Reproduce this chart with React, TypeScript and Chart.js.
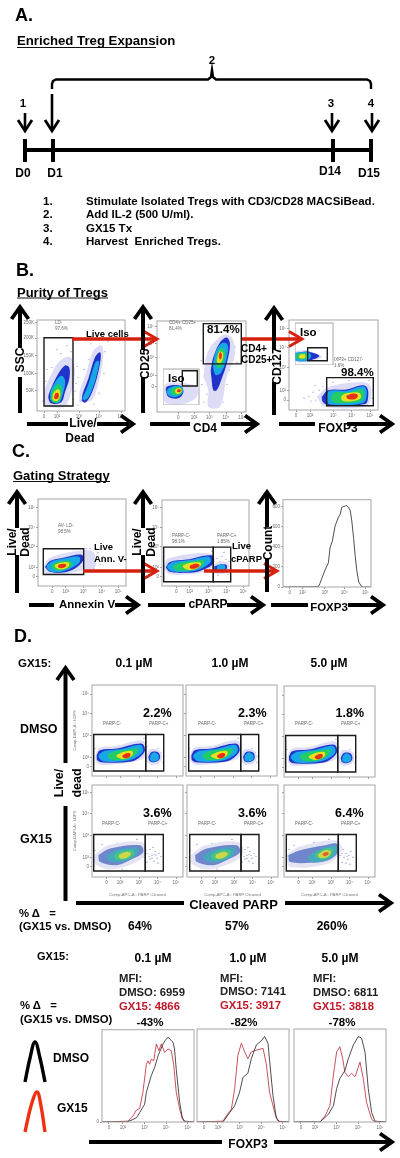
import React, { useEffect, useRef } from "react";
import { Chart, registerables } from "chart.js";

Chart.register(...registerables);

type Pt = [number, number];

/* ---------- tick labels ---------- */
const logLabels = ["0", "10²", "10³", "10⁴", "10⁵"];
const logLabelsY = ["10⁵", "10⁴", "10³", "10²", "0"];
const sscLabels = ["50K", "100K", "150K", "200K", "250K"];
const countLabels = ["0", "200", "400", "600", "800"];
const countTicks = [0, 200, 400, 600, 800];

/* ---------- density contours, display channels, outermost level first ---------- */
const liveDeadLive: Pt[][] = [
  [[8,4.3],[7,17.7],[13,34.3],[23,51],[33.7,54.3],[38,37.7],[33,14.3],[26.3,4.3]],
  [[13,8.3],[11.3,14.3],[14.7,24.3],[21.3,37.7],[28,46],[32.3,43.7],[32.3,32.7],[28,19.3],[24.7,9.3],[18,7]],
  [[14.7,11],[14.7,19.3],[19.7,29.3],[24.7,34.3],[27,29.3],[24.7,17.7],[21.3,9.3]],
  [[14.7,11],[16.3,19.3],[21.3,26],[23.7,22.7],[22.3,12.7],[18,9.3]],
  [[16.3,11.7],[17.3,17.7],[21.3,21],[22.3,16],[19.7,11]],
  [[17.5,13.5],[19,17.5],[21,17.5],[21,14],[19,12.5]],
];
const liveDeadDead: Pt[][] = [
  [[42.3,8.3],[43,21],[49,37.7],[56.3,61],[64.7,66],[66.3,54.3],[61.3,27.7],[54.7,11]],
  [[44.7,10.3],[45.7,17.7],[51.3,32.7],[58,54.3],[63,59.3],[63.7,52.7],[59.7,32.7],[53,14.3],[48,8.3]],
  [[46.3,11.7],[52.3,26],[59,47.7],[61,49.3],[57,31],[50.3,14.3]],
];
const cd4Cd25: Pt[][] = [
  [[46.3,35.3],[51.3,62],[66.3,78],[74.7,75.3],[78,58.7],[69.7,35.3],[63,5.3],[51.3,5.3],[51.3,22]],
  [[53.7,42],[56.3,55.3],[63,70.3],[69.7,75.3],[73,68.7],[69.7,48.7],[64.7,33.7],[59.7,22],[56.3,22],[54.7,32]],
  [[57,47],[59.7,60.3],[65.7,68.7],[69.7,67],[68,52],[63,40.3],[59,38.7]],
  [[59.7,50.3],[61.3,58.7],[64.7,63.7],[67,60.3],[64.7,48.7],[61.3,45.3]],
  [[61,53.7],[63,60.3],[65.3,58.7],[63.7,51.3],[61.3,50.3]],
  [[62.3,56],[63.3,59.7],[64.3,58],[63.3,53.7]],
];
const cd4Iso: Pt[][] = [
  [[20.3,22.3],[33.7,18.3],[33.7,8.3],[20.3,1],[2.7,1.7],[1,15],[3.7,21.7]],
  [[2.7,15],[3.7,18.3],[12,20],[18.7,18.3],[20.3,12.3],[15.3,6.7],[5.3,8.3]],
  [[4.7,15],[12,18],[18,17],[18.3,12.3],[12,9],[6,10.7]],
  [[8.7,14.7],[13.7,17],[17.7,15.7],[17,12.3],[12,11],[8.7,12.3]],
  [[12.7,15],[17,16],[17.3,13.3],[13.7,12.3]],
  [[14.7,15],[17,15],[17,13.7],[14.7,13.7]],
];
const foxp3Cd127: Pt[][] = [
  [[27.7,13.3],[39.3,23.3],[72.7,28.3],[81,25],[81.7,10],[76,3.3],[36,3.3]],
  [[32.7,13.3],[39.3,20],[57.7,20.7],[72.7,25],[77.7,23.3],[79.3,15],[76,6],[39.3,5],[33.7,8.3]],
  [[38.3,11.7],[41,18.3],[57.7,18.3],[74.3,22.7],[76.7,16.7],[73.7,8.3],[41,6.7]],
  [[42.7,11.7],[46,16.7],[61,16.7],[72.7,20],[73.7,13.3],[69.3,9.3],[46,8.3]],
  [[52.7,13.3],[57.7,16],[69.3,16.7],[71,12.7],[64.3,10],[54.3,10]],
  [[57.7,14],[64.3,16],[68.3,14.7],[66,11.7],[59.3,11.7]],
];
const foxp3Iso: Pt[][] = [
  [[11.7,15],[26.7,8.3],[11.7,3.3],[0,4],[0,13]],
  [[0,11.7],[13.3,13.3],[24.3,9],[13.3,4.3],[0,5]],
  [[1,11],[11.7,12],[15,9],[11.7,5.7],[1,5.7]],
  [[2.7,10.3],[10,10.7],[12.3,9],[10,7],[2.7,7.3]],
  [[5,9.7],[9,9.7],[9.3,8],[5,8]],
];
const annexinLive: Pt[][] = [
  [[4.7,17.7],[12,28.7],[43.7,36],[55.3,34.3],[57,19.3],[38.7,14.3],[22,11.7],[7,12]],
  [[7,19.3],[12,25.3],[25.3,28.7],[43.7,31.7],[45.3,26],[37,17.7],[25.3,13.7],[12,14.3]],
  [[9.3,20],[15.3,24.3],[28.7,27],[40.3,28.7],[40.3,24.3],[32,18.7],[22,15.3],[12,16]],
  [[13.7,20],[20.3,23.3],[30.3,24.3],[33.7,22],[27,18],[18.7,16.7]],
  [[17,20.3],[23.7,22.7],[30.3,22.7],[28.7,19.3],[22,17.7]],
  [[20.3,20.7],[24.7,22],[27.7,21],[25.3,19],[21.3,19]],
];
const cparpNeg: Pt[][] = [
  [[1.3,17.7],[6.3,27.7],[49.7,32.7],[52,21],[38,13.3],[8,12]],
  [[3.7,18.7],[8,24.3],[24.7,26.7],[49.7,31],[51.3,22.7],[38,15.3],[24.7,13.3],[8,14.3]],
  [[5.7,19.3],[11.3,23.3],[28,25],[46.3,28.7],[47.3,24.3],[34.7,17],[21.3,15.3],[9.7,16]],
  [[11.3,19.3],[19.7,22.7],[34.7,24.3],[41.3,25.3],[39.7,21.7],[31.3,17.7],[16.3,16.7]],
  [[21.3,20],[29.7,22.7],[38,22.7],[34.7,18.7],[26.3,17.3]],
  [[28,20],[33,22],[37,21],[33,18.3],[28.7,18.3]],
];
const cparpPos: Pt[][] = [
  [[50,21],[60,25],[67,22],[66,14],[52,13]],
  [[52.3,20],[59.7,22],[64.7,21],[64,16.7],[53,15.3]],
  [[56.3,20],[61.3,20.7],[62,18],[56.3,17]],
];
const dmsoNeg: Pt[][] = [
  [[3,19.3],[7.3,28.3],[24.7,30.3],[50.7,36],[54.7,26],[49.7,17],[11.3,11],[4.7,13.7]],
  [[4.7,21],[8,26],[24.7,27.7],[49.7,32.7],[53,26],[48,19.3],[38,14.3],[11.3,13.7],[5.3,16]],
  [[7,20.3],[13,24.3],[29.7,26],[48,30.3],[49.7,25],[41.7,18.7],[31.3,16],[11.3,16]],
  [[16.3,21],[24.7,24.3],[39.7,26],[44.7,27],[43,22.7],[33,17.7],[19.7,17.7]],
  [[24.7,20.3],[33,23.7],[39.7,24.3],[39,21],[31.3,18.3]],
  [[30.7,20.3],[35.3,22.7],[38,22],[36.3,19.3],[32,18.7]],
];
const dmsoPos: Pt[][] = [
  [[54,19],[58,27],[67,26],[70,18],[65,12],[56,13]],
  [[56.3,19.3],[59.7,24.3],[66.3,23.7],[68,18.3],[64,14.3],[58,15]],
  [[58.7,19.3],[62,22.7],[65.7,20.3],[64.7,16.7],[59.7,16.3]],
];
const gxLowNeg: Pt[][] = [
  [[2.3,22],[16.3,32],[49.7,35.3],[54.7,23.7],[41.3,13.7],[18,7.7],[3,13.7]],
  [[6.3,22],[18,28.7],[48,32],[51.3,25.3],[41.3,18.7],[24.7,12],[8,15.3]],
  [[14.7,20.3],[24.7,26],[44.7,28.7],[44.7,23.7],[34.7,17.7],[19.7,16.3]],
  [[23,22],[31.3,25.3],[40.7,26],[39.7,22],[31.3,18.7],[24.7,18.7]],
  [[27.3,21.7],[34,24.3],[38,23.7],[34.7,20.3],[28.7,19.7]],
];
const gxHighNeg: Pt[][] = [
  [[2,22],[14.3,30.3],[52.7,37],[57.7,27],[44.3,13.7],[6,10.3]],
  [[4.3,22],[16,27],[41,32],[52.7,33.7],[54.3,25.3],[44.3,17],[26,14.3],[6,15.3]],
  [[24.3,19.7],[36,27],[51,30.3],[51,23.7],[41,17.7],[27.7,16.3]],
  [[31,22],[39.3,27],[47.7,27.7],[46,22],[37.7,18.7]],
  [[34.3,22],[41,26],[46,25.3],[42.7,21],[36.7,20.3]],
  [[38.7,23],[42.7,24.7],[44.3,23.7],[41,21.7]],
];

/* ---------- sparse events outside the contours ---------- */
const specksLive: Pt[] = [[6,10],[9,30],[15,44],[24,58],[34,60],[40,45],[39,28],[36,12],[30,6],[41,6],[47,42],[52,52],[54,68],[62,72],[68,60],[67,38],[62,18],[57,7],[10,42],[20,62],[30,66],[71,70],[64,78],[38,20],[41,34]];
const specksCd4: Pt[] = [[47,10],[50,18],[53,8],[58,5],[62,12],[66,20],[70,28],[72,42],[45,28],[48,44],[80,50],[78,66],[60,80],[44,52],[56,14],[60,9],[66,10],[52,28]];
const specksFox: Pt[] = [[20,14],[24,18],[27,10],[30,20],[22,9],[34,24],[44,28],[60,30],[80,30],[84,20],[15,12],[26,25],[83,12]];
const specksAnnexin: Pt[] = [[55,30],[58,26],[60,34],[52,38],[62,22],[56,18],[65,30],[50,16],[48,38],[60,16],[67,26],[58,38]];
const specksCparp: Pt[] = [[55,28],[60,30],[64,27],[67,25],[69,18],[66,12],[56,11],[50,35],[62,34],[58,25]];
const specksDmso: Pt[] = [[69,24],[72,20],[71,14],[55,30],[66,28],[60,12],[3,28],[52,38]];
const specksGxLow: Pt[] = [[55,24],[58,28],[60,22],[63,26],[65,19],[67,24],[62,16],[58,18],[69,21],[55,15],[61,30],[66,14],[3,27],[10,33],[25,34],[45,38],[30,8],[15,9],[60,19],[64,22],[57,21],[62,23]];
const specksGxHigh: Pt[] = [[56,22],[59,28],[62,24],[64,18],[67,26],[69,20],[58,15],[62,14],[66,13],[3,18],[5,28],[10,32],[30,35],[45,38],[20,10],[60,20],[63,21],[58,24],[65,22]];

/* ---------- histograms: decade position, % of mode ---------- */
const countX = [0.92,1.83,2.67,2.75,3,3.17,3.25,3.37,3.5,3.67,3.75,3.83,3.92,4,4.08,4.17,4.25,4.33,4.42,4.5,4.58,4.67,4.83,5.28];
const countY = [0,2,3,35,168,240,387,460,605,696,720,790,800,803,810,790,760,655,480,302,160,50,0,0];
const h1BlackX = [1.03,2.15,2.38,2.62,2.77,3,3.08,3.31,3.46,3.62,3.85,3.95,4.08,4.15,4.23,4.31,4.38,4.46,4.62,4.74,4.85,5.28];
const h1BlackY = [0,0,2,5,11,21,35,55,64,78,92,96,100,98,96,94,86,62,23,5,1,0];
const h1RedX = [1.03,2.23,2.46,2.62,2.77,2.92,3.08,3.15,3.23,3.31,3.42,3.54,3.66,3.77,3.92,4.08,4.23,4.34,4.46,4.62,4.74,4.85,5.28];
const h1RedY = [0,1,7,14,16,35,68,72,68,74,72,92,84,92,82,86,84,68,35,15,4,0,0];
const h2BlackX = [1.03,2.23,2.54,2.77,3,3.15,3.38,3.54,3.77,4,4.15,4.31,4.42,4.54,4.69,4.85,5.28];
const h2BlackY = [0,0,11,19,35,52,57,74,90,95,100,92,62,31,5,0,0];
const h2RedX = [1.03,2.23,2.38,2.62,2.77,2.92,3.08,3.23,3.38,3.54,3.77,4.08,4.23,4.38,4.62,4.77,5.28];
const h2RedY = [0,1,7,15,39,78,92,82,74,82,84,86,68,35,11,1,0];
const h3BlackX = [1.03,2.23,2.62,2.85,3,3.15,3.38,3.54,3.77,4,4.15,4.31,4.46,4.62,4.77,5.28];
const h3BlackY = [0,0,9,19,39,51,60,74,90,100,98,82,39,11,1,0];
const h3RedX = [1.03,2.23,2.46,2.69,2.85,3,3.15,3.28,3.38,3.54,3.69,3.85,4,4.08,4.23,4.38,4.62,4.77,5.28];
const h3RedY = [0,0,7,19,55,82,88,74,58,53,57,53,64,70,51,23,3,0,0];

/* ---------- palettes ---------- */
const RAINBOW = ["#dcdcf6", "#2233cc", "#18a8e6", "#22cc66", "#e8e020", "#e83018"];
const PALE = ["#e4e4f4", "#6f86cc", "#45a8bc", "#48c484", "#ccd848", "#e06030"];
const GROW = [0, 0, 2.4, 2.4, 2, 1.2];
const RED_LINE = "#c02535";
const FONT = '"Liberation Sans", Arial, sans-serif';

type Cloud = { levels: Pt[][]; shift?: number; pal?: string[] };
type Spec = {
  box: [number, number, number, number];
  clouds?: Cloud[];
  specks?: Pt[]; speckColor?: string;
  gates?: number[][];
  xTicks?: number[]; xLabels?: string[];
  yTicks?: number[]; yLabels?: string[];
  xTitle?: string; yTitle?: string;
  xRange?: [number, number]; yRange?: [number, number];
  lines?: { xs: number[]; ys: number[]; color: string }[];
  inset?: boolean;
};

const DX = [14.5, 28, 47, 65.5, 84];
const DY1 = [82.7, 62.7, 41, 18.7, 9.3];
const DY2 = [85.3, 63.7, 42, 19.7, 10.3];
const HX = [1.35, 2, 3, 4, 5];
const APC = "Comp-APC-A:: PARP Cleaved";
const DAPI = "Comp-DAPI-A:: LDFS";

const dRow1 = (left: number, top: number, shift: number, g: number[], labelsY: boolean): Spec => ({
  box: [left, top, 91, 92],
  clouds: [{ levels: dmsoPos, shift }, { levels: dmsoNeg, shift }],
  specks: specksDmso,
  gates: [[g[0], g[1], 5, 42], [g[1], g[2], 5, 42]],
  xTicks: DX, yTicks: DY1, yLabels: labelsY ? logLabelsY : undefined, yTitle: labelsY ? DAPI : undefined,
});
const dRow2 = (left: number, levels: Pt[][], specks: Pt[], shift: number, g: number[], labelsY: boolean): Spec => ({
  box: [left, 784, 91, 93],
  clouds: [{ levels, shift, pal: PALE }],
  specks, speckColor: "#7078c0",
  gates: [[g[0], g[1], 6, 43], [g[1], g[2], 6, 43]],
  xTicks: DX, xLabels: logLabels, xTitle: APC,
  yTicks: DY2, yLabels: labelsY ? logLabelsY : undefined, yTitle: labelsY ? DAPI : undefined,
});
const hist = (left: number, series: Spec["lines"], zero: boolean): Spec => ({
  box: [left, 1029, 92, 93],
  xRange: [1.03, 5.28], yRange: [0, 108.7],
  xTicks: HX, xLabels: logLabels,
  yTicks: zero ? [0] : [], yLabels: zero ? ["0"] : [],
  lines: series,
});

const PLOTS: Spec[] = [
  { box: [37, 319, 88, 92], clouds: [{ levels: liveDeadDead }, { levels: liveDeadLive }], specks: specksLive,
    gates: [[7, 36, 5, 74]],
    xTicks: [7, 20, 42, 62, 84], xLabels: logLabels, yTicks: [20.3, 38, 56, 73.7, 89], yLabels: sscLabels },
  { box: [157, 320, 89, 92], clouds: [{ levels: cd4Cd25 }], specks: specksCd4,
    gates: [[46.3, 84.3, 48.7, 89.3]],
    xTicks: [21.3, 37, 52.3, 69, 84.7], xLabels: logLabels, yTicks: [86, 69, 54.7, 37, 25.3], yLabels: logLabelsY },
  { box: [163, 369, 36, 36], clouds: [{ levels: cd4Iso }], gates: [[19.3, 34.3, 19, 34.3]], inset: true },
  { box: [289, 319, 89, 91], clouds: [{ levels: foxp3Cd127 }], specks: specksFox,
    gates: [[37.7, 84.3, 4.3, 32.7]],
    xTicks: [7, 21, 44.3, 62.7, 81], xLabels: logLabels, yTicks: [82, 63, 43, 19.3, 10], yLabels: logLabelsY },
  { box: [295, 323, 38, 42], clouds: [{ levels: foxp3Iso }], gates: [[12.7, 32.3, 4.3, 17.3]], inset: true },
  { box: [38, 498, 88, 88], clouds: [{ levels: annexinLive }], specks: specksAnnexin, gates: [[5.3, 45.7, 11.7, 37.7]],
    xTicks: [14.3, 27.7, 45.3, 63.7, 80.3], xLabels: logLabels, yTicks: [79.3, 59.3, 40, 18.7, 9.3], yLabels: logLabelsY },
  { box: [162, 499, 87, 87], clouds: [{ levels: cparpPos }, { levels: cparpNeg }], specks: specksCparp,
    gates: [[1.7, 51.3, 4.3, 39.3], [51.3, 68.7, 4.3, 39.3]],
    xTicks: [14.3, 27.7, 46.3, 64.7, 81.3], xLabels: logLabels, yTicks: [79.3, 59.3, 40, 18.7, 9.3], yLabels: logLabelsY },
  { box: [283, 499, 88, 88], xRange: [0.92, 5.28], yRange: [0, 867],
    xTicks: [1.25, 1.88, 3, 3.95, 5], xLabels: logLabels, yTicks: countTicks, yLabels: countLabels,
    lines: [{ xs: countX, ys: countY, color: "#222" }] },
  dRow1(92, 684, 0, [1.7, 53.7, 71.7], true),
  dRow1(186, 684, 0.7, [2.7, 54.7, 72.7], false),
  dRow1(284, 685, 0.3, [1.7, 53.7, 71.7], false),
  dRow2(92, gxLowNeg, specksGxLow, 0, [1.7, 53.3, 71.3], true),
  dRow2(187, gxLowNeg, specksGxLow, 1.7, [2.7, 54, 72], false),
  dRow2(284, gxHighNeg, specksGxHigh, 0, [2.3, 54.3, 72.3], false),
  hist(102, [{ xs: h1BlackX, ys: h1BlackY, color: "#222" }, { xs: h1RedX, ys: h1RedY, color: RED_LINE }], true),
  hist(197, [{ xs: h2BlackX, ys: h2BlackY, color: "#222" }, { xs: h2RedX, ys: h2RedY, color: RED_LINE }], false),
  hist(294, [{ xs: h3BlackX, ys: h3BlackY, color: "#222" }, { xs: h3RedX, ys: h3RedY, color: RED_LINE }], false),
];

/* ---------- schematic strokes (page scale) ---------- */
const BLACK_STEMS: number[][] = [
  [20,310,20,348],[20,377,20,413],[143,310,143,350],[143,378,143,413],[274,311,274,350],[274,382,274,415],
  [27,424,68,424],[97,424,130,424],[150,424,190,424],[221,424,254,424],[279,424,315,424],[347,424,389,424],
  [17,495,17,528],[17,555,17,593],[143,495,143,528],[143,555,143,593],[267,495,267,527],[267,558,267,592],
  [29,605,54,605],[115,605,135,605],[148,605,185,605],[227,605,260,605],[271,605,308,605],[348,605,380,605],
  [65.5,671,65.5,763],[65.5,806,65.5,901],[76,903,184,903],[285,903,388,903],
  [89,1142,222,1142],[274,1142,389,1142],
];
const BLACK_HEADS: number[][] = [
  [20,307,0,-1],[143,307,0,-1],[274,308,0,-1],[133,424,1,0],[257,424,1,0],[392,424,1,0],
  [17,492,0,-1],[143,492,0,-1],[267,492,0,-1],[138,605,1,0],[263,605,1,0],[383,605,1,0],
  [65.5,668,0,-1],[391,903,1,0],[392,1142,1,0],
];
const RED_STEMS: number[][] = [
  [72,339,154,339],[242,339,299,339],[83,571,154,571],[204,571,274,571],
];
const RED_HEADS: number[][] = [[157,339,1,0],[302,339,1,0],[157,571,1,0],[277,571,1,0]];
const TIMELINE_STEMS: number[][] = [
  [25,150,371,150],[25,139,25,162],[53,139,53,162],[333,139,333,162],[371,139,371,162],
];
const DAY_ARROWS: number[][] = [
  [25,113,25,130],[52,94,52,130],[332,113,332,130],[372,113,372,130],
];
const BRACKET: Pt[] = [[52,89],[52,84],[53,81],[56,79.5],[208,79.5],[211,77],[212,70],[213,77],[216,79.5],[367,79.5],[370,81],[371,84],[371,89]];
const UNDERLINES: number[][] = [[17,47.5,156,47.5],[17,298,108,298],[13,481.5,110,481.5]];
const LEGEND_DMSO: Pt[] = [[25,1082],[30,1058],[35,1042],[40,1058],[45,1082]];
const LEGEND_GX15: Pt[] = [[25,1132],[31,1106],[37,1092],[41,1106],[45,1132]];

/* ---------- text: text, x, baseline, size, bold ---------- */
type T = { t: string; x: number; y: number; s: number; b?: boolean; c?: string; a?: "c"; r?: boolean };
const TEXTS: T[] = [
  { t: "A.", x: 15, y: 21, s: 18, b: true },
  { t: "Enriched Treg Expansion", x: 17, y: 45, s: 13.2, b: true },
  { t: "2", x: 212, y: 64, s: 11.5, b: true, a: "c" },
  { t: "1", x: 23, y: 107, s: 11.5, b: true, a: "c" },
  { t: "3", x: 331, y: 107, s: 11.5, b: true, a: "c" },
  { t: "4", x: 371, y: 107, s: 11.5, b: true, a: "c" },
  { t: "D0", x: 23, y: 177, s: 12, b: true, a: "c" },
  { t: "D1", x: 55, y: 177, s: 12, b: true, a: "c" },
  { t: "D14", x: 330, y: 175, s: 12, b: true, a: "c" },
  { t: "D15", x: 369, y: 177, s: 12, b: true, a: "c" },
  { t: "1.", x: 43, y: 205, s: 11.5, b: true },
  { t: "2.", x: 43, y: 218, s: 11.5, b: true },
  { t: "3.", x: 43, y: 232, s: 11.5, b: true },
  { t: "4.", x: 43, y: 245, s: 11.5, b: true },
  { t: "Stimulate Isolated Tregs with CD3/CD28 MACSiBead.", x: 86, y: 205, s: 11.5, b: true },
  { t: "Add IL-2 (500 U/ml).", x: 86, y: 218, s: 11.5, b: true },
  { t: "GX15 Tx", x: 86, y: 232, s: 11.5, b: true },
  { t: "Harvest  Enriched Tregs.", x: 86, y: 245, s: 11.5, b: true },
  { t: "B.", x: 16, y: 276, s: 18, b: true },
  { t: "Purity of Tregs", x: 17, y: 297, s: 13, b: true },
  { t: "SSC", x: 20, y: 360, s: 12, b: true, r: true, a: "c" },
  { t: "CD25", x: 145, y: 364, s: 12, b: true, r: true, a: "c" },
  { t: "CD127", x: 277, y: 366, s: 12, b: true, r: true, a: "c" },
  { t: "Live/", x: 83, y: 427, s: 12, b: true, a: "c" },
  { t: "Dead", x: 80, y: 442, s: 12, b: true, a: "c" },
  { t: "CD4", x: 205, y: 432, s: 12, b: true, a: "c" },
  { t: "FOXP3", x: 338, y: 432, s: 12, b: true, a: "c" },
  { t: "Live cells", x: 86, y: 337, s: 9.5, b: true },
  { t: "81.4%", x: 207, y: 333, s: 11.5, b: true },
  { t: "CD4+", x: 241, y: 352, s: 10, b: true },
  { t: "CD25+", x: 241, y: 363, s: 10, b: true },
  { t: "98.4%", x: 341, y: 376, s: 11.5, b: true },
  { t: "Iso", x: 168, y: 382, s: 11.5, b: true },
  { t: "Iso", x: 300, y: 336, s: 11.5, b: true },
  { t: "LD-", x: 55, y: 324, s: 4.5, c: "#666" },
  { t: "97.6%", x: 55, y: 330, s: 4.5, c: "#666" },
  { t: "CD4+ CD25+", x: 169, y: 324, s: 4.5, c: "#666" },
  { t: "81.4%", x: 169, y: 330, s: 4.5, c: "#666" },
  { t: "IXP3+ CD127-", x: 334, y: 361, s: 4.5, c: "#666" },
  { t: "1.6%", x: 334, y: 367, s: 4.5, c: "#666" },
  { t: "C.", x: 12, y: 457, s: 18, b: true },
  { t: "Gating Strategy", x: 13, y: 480, s: 13, b: true },
  { t: "Live/", x: 12, y: 542, s: 12, b: true, r: true, a: "c" },
  { t: "Dead", x: 25, y: 542, s: 12, b: true, r: true, a: "c" },
  { t: "Live/", x: 137, y: 542, s: 12, b: true, r: true, a: "c" },
  { t: "Dead", x: 151, y: 542, s: 12, b: true, r: true, a: "c" },
  { t: "Count", x: 268, y: 543, s: 12, b: true, r: true, a: "c" },
  { t: "Annexin V", x: 87, y: 608, s: 11.5, b: true, a: "c" },
  { t: "cPARP", x: 208, y: 608, s: 12, b: true, a: "c" },
  { t: "FOXP3", x: 329, y: 611, s: 11.5, b: true, a: "c" },
  { t: "Live", x: 94, y: 550, s: 9.5, b: true },
  { t: "Ann. V-", x: 94, y: 562, s: 9.5, b: true },
  { t: "Live", x: 232, y: 549, s: 9.5, b: true },
  { t: "cPARP", x: 231, y: 562, s: 9.5, b: true },
  { t: "AV- LD-", x: 58, y: 527, s: 4.5, c: "#666" },
  { t: "98.5%", x: 58, y: 533, s: 4.5, c: "#666" },
  { t: "PARP-C-", x: 172, y: 537, s: 4.5, c: "#666" },
  { t: "98.1%", x: 172, y: 543, s: 4.5, c: "#666" },
  { t: "PARP-C+", x: 217, y: 537, s: 4.5, c: "#666" },
  { t: "1.85%", x: 217, y: 543, s: 4.5, c: "#666" },
  { t: "D.", x: 14, y: 642, s: 18, b: true },
  { t: "GX15:", x: 18, y: 667, s: 11.5, b: true },
  { t: "0.1 µM", x: 134, y: 667, s: 12, b: true, a: "c" },
  { t: "1.0 µM", x: 230, y: 667, s: 12, b: true, a: "c" },
  { t: "5.0 µM", x: 329, y: 667, s: 12, b: true, a: "c" },
  { t: "DMSO", x: 20, y: 733, s: 12.5, b: true },
  { t: "GX15", x: 20, y: 843, s: 12.5, b: true },
  { t: "2.2%", x: 143, y: 717, s: 12.5, b: true },
  { t: "2.3%", x: 238, y: 717, s: 12.5, b: true },
  { t: "1.8%", x: 335.5, y: 717, s: 12.5, b: true },
  { t: "3.6%", x: 143, y: 817, s: 12.5, b: true },
  { t: "3.6%", x: 238, y: 817, s: 12.5, b: true },
  { t: "6.4%", x: 335, y: 817, s: 12.5, b: true },
  { t: "PARP-C-", x: 103, y: 725, s: 4.5, c: "#666" },
  { t: "PARP-C+", x: 149, y: 725, s: 4.5, c: "#666" },
  { t: "PARP-C-", x: 198, y: 725, s: 4.5, c: "#666" },
  { t: "PARP-C+", x: 244, y: 725, s: 4.5, c: "#666" },
  { t: "PARP-C-", x: 295, y: 725, s: 4.5, c: "#666" },
  { t: "PARP-C+", x: 341, y: 725, s: 4.5, c: "#666" },
  { t: "PARP-C-", x: 102, y: 825, s: 4.5, c: "#666" },
  { t: "PARP-C+", x: 148, y: 825, s: 4.5, c: "#666" },
  { t: "PARP-C-", x: 198, y: 825, s: 4.5, c: "#666" },
  { t: "PARP-C+", x: 244, y: 825, s: 4.5, c: "#666" },
  { t: "PARP-C-", x: 295, y: 825, s: 4.5, c: "#666" },
  { t: "PARP-C+", x: 341, y: 825, s: 4.5, c: "#666" },
  { t: "Live/", x: 59, y: 783, s: 12.5, b: true, r: true, a: "c" },
  { t: "dead", x: 77, y: 783, s: 12.5, b: true, r: true, a: "c" },
  { t: "Cleaved PARP", x: 233.5, y: 909, s: 13, b: true, a: "c" },
  { t: "% Δ   =", x: 19, y: 917, s: 11.3, b: true },
  { t: "(GX15 vs. DMSO)", x: 19, y: 930, s: 11.3, b: true },
  { t: "64%", x: 140, y: 930, s: 12, b: true, a: "c" },
  { t: "57%", x: 237, y: 930, s: 12, b: true, a: "c" },
  { t: "260%", x: 332, y: 930, s: 12, b: true, a: "c" },
  { t: "GX15:", x: 37, y: 960, s: 11, b: true },
  { t: "0.1 µM", x: 153, y: 962, s: 12, b: true, a: "c" },
  { t: "1.0 µM", x: 248, y: 962, s: 12, b: true, a: "c" },
  { t: "5.0 µM", x: 340, y: 962, s: 12, b: true, a: "c" },
  { t: "MFI:", x: 119, y: 982, s: 11.3, b: true, c: "#222" },
  { t: "DMSO: 6959", x: 119, y: 996, s: 11.3, b: true, c: "#222" },
  { t: "GX15: 4866", x: 119, y: 1010, s: 11.3, b: true, c: "#c01828" },
  { t: "-43%", x: 150, y: 1026, s: 11.5, b: true, a: "c" },
  { t: "MFI:", x: 220, y: 982, s: 11.3, b: true, c: "#222" },
  { t: "DMSO: 7141", x: 220, y: 995, s: 11.3, b: true, c: "#222" },
  { t: "GX15: 3917", x: 220, y: 1009, s: 11.3, b: true, c: "#c01828" },
  { t: "-82%", x: 244, y: 1026, s: 11.5, b: true, a: "c" },
  { t: "MFI:", x: 313, y: 982, s: 11.3, b: true, c: "#222" },
  { t: "DMSO: 6811", x: 313, y: 996, s: 11.3, b: true, c: "#222" },
  { t: "GX15: 3818", x: 313, y: 1010, s: 11.3, b: true, c: "#c01828" },
  { t: "-78%", x: 342, y: 1026, s: 11.5, b: true, a: "c" },
  { t: "% Δ   =", x: 20, y: 1009, s: 11.3, b: true },
  { t: "(GX15 vs. DMSO)", x: 20, y: 1023, s: 11.3, b: true },
  { t: "DMSO", x: 53, y: 1062, s: 12, b: true },
  { t: "GX15", x: 57, y: 1112, s: 12, b: true },
  { t: "FOXP3", x: 248, y: 1148, s: 12, b: true, a: "c" },
];

/* ---------- chart helpers ---------- */
const PAD = { l: 20, r: 6, t: 3, b: 12, bTitle: 20 };

const frame = {
  id: "frame",
  beforeDraw(c: any, _a: any, o: any) {
    if (o.fill) {
      const a = c.chartArea;
      c.ctx.fillStyle = "#fff";
      c.ctx.fillRect(a.left, a.top, a.right - a.left, a.bottom - a.top);
    }
  },
  afterDatasetsDraw(c: any) {
    const a = c.chartArea;
    c.ctx.save();
    c.ctx.strokeStyle = "#a6a6a6";
    c.ctx.lineWidth = 1;
    c.ctx.strokeRect(a.left, a.top, a.right - a.left, a.bottom - a.top);
    c.ctx.restore();
  },
};

function axis(size: number, min: number, max: number, vals: number[], labels: string[] | undefined, fit: (s: any) => void, title?: string) {
  return {
    type: "linear", min, max, afterFit: fit,
    afterBuildTicks: (s: any) => { s.ticks = vals.map((value) => ({ value })); },
    ticks: {
      autoSkip: false, maxRotation: 0, minRotation: 0, padding: 1, color: "#6a6a6a",
      font: { size, family: FONT },
      callback: (v: number) => { const i = vals.indexOf(v); return labels && i >= 0 ? labels[i] : ""; },
    },
    grid: { drawOnChartArea: false, drawTicks: true, tickLength: 2, color: "#777", lineWidth: 0.7 },
    border: { display: false },
    title: { display: !!title, text: title, color: "#777", padding: 0, font: { size: 4.2, family: FONT } },
  };
}

function Plot({ spec }: { spec: Spec }) {
  const ref = useRef<HTMLCanvasElement>(null);
  const [l, t, w, h] = spec.box;
  const pl = spec.inset ? 0 : PAD.l;
  const pb = spec.inset ? 0 : spec.xTitle ? PAD.bTitle : PAD.b;
  const pr = spec.inset ? 1 : PAD.r;
  const pt = spec.inset ? 1 : PAD.t;
  useEffect(() => {
    const datasets: any[] = [];
    (spec.gates || []).forEach(([x0, x1, y0, y1]) =>
      datasets.push({
        data: [{ x: x0, y: y0 }, { x: x1, y: y0 }, { x: x1, y: y1 }, { x: x0, y: y1 }, { x: x0, y: y0 }],
        showLine: true, borderColor: "#1a1a1a", borderWidth: 1.4, pointRadius: 0, fill: false, borderCapStyle: "square",
      }));
    (spec.lines || []).forEach((s) =>
      datasets.push({
        data: s.xs.map((x, i) => ({ x, y: s.ys[i] })),
        showLine: true, borderColor: s.color, borderWidth: 0.8, pointRadius: 0, fill: false,
      }));
    (spec.clouds || []).forEach((cl) => {
      const pal = cl.pal || RAINBOW;
      const off = cl.shift || 0;
      for (let i = cl.levels.length - 1; i >= 0; i--) {
        const pts = cl.levels[i].concat([cl.levels[i][0]]).map(([x, y]) => ({ x: x + off, y }));
        datasets.push({
          data: pts, showLine: true, pointRadius: 0, borderWidth: GROW[i], borderColor: GROW[i] ? pal[i] : "transparent",
          backgroundColor: pal[i], fill: "shape", tension: 0.35,
        });
      }
    });
    if (spec.specks) {
      datasets.push({
        data: spec.specks.map(([x, y]) => ({ x, y })), showLine: false,
        pointRadius: 0.6, pointBorderWidth: 0, pointBackgroundColor: spec.speckColor || "#8a8ae0",
      });
    }
    const xr = spec.xRange || [0, w];
    const yr = spec.yRange || [0, h];
    const c = new Chart(ref.current as HTMLCanvasElement, {
      type: "scatter",
      data: { datasets },
      plugins: [frame],
      options: {
        animation: false, responsive: false, devicePixelRatio: 1,
        layout: { padding: { top: pt, right: pr, left: 0, bottom: 0 } },
        plugins: { legend: { display: false }, tooltip: { enabled: false }, frame: { fill: !!spec.inset } },
        scales: {
          x: spec.inset
            ? { display: false, min: xr[0], max: xr[1] }
            : axis(4.5, xr[0], xr[1], spec.xTicks || [], spec.xLabels, (s: any) => { s.height = pb; }, spec.xTitle),
          y: spec.inset
            ? { display: false, min: yr[0], max: yr[1] }
            : axis(4.5, yr[0], yr[1], spec.yTicks || [], spec.yLabels, (s: any) => { s.width = pl; }, spec.yTitle),
        },
      } as any,
    });
    return () => c.destroy();
  }, []);
  return (
    <canvas
      ref={ref}
      width={w + pl + pr}
      height={h + pb + pt}
      style={{ position: "absolute", left: l - pl, top: t - pt, filter: "blur(0.5px)" }}
    />
  );
}

function Schematic() {
  const ref = useRef<HTMLCanvasElement>(null);
  useEffect(() => {
    const ds: any[] = [];
    const stroke = (pts: Pt[], color: string, width: number, tension = 0) =>
      ds.push({
        data: pts.map(([x, y]) => ({ x, y })), showLine: true, pointRadius: 0, borderColor: color,
        borderWidth: width, tension, fill: false, borderCapStyle: "butt", borderJoinStyle: "miter", clip: false,
      });
    const head = ([x, y, dx, dy]: number[], color: string, len: number, half: number, width: number) =>
      stroke([[x - dx * len + dy * half, y - dy * len + dx * half], [x, y], [x - dx * len - dy * half, y - dy * len - dx * half]], color, width);
    BLACK_STEMS.forEach((s) => stroke([[s[0], s[1]], [s[2], s[3]]], "#000", 4));
    BLACK_HEADS.forEach((h) => head(h, "#000", 12, 8.5, 3.8));
    RED_STEMS.forEach((s) => stroke([[s[0], s[1]], [s[2], s[3]]], "#d6200e", 3.6));
    RED_HEADS.forEach((h) => head(h, "#d6200e", 13, 7.5, 3));
    TIMELINE_STEMS.forEach((s) => stroke([[s[0], s[1]], [s[2], s[3]]], "#000", 4));
    DAY_ARROWS.forEach((s) => {
      stroke([[s[0], s[1]], [s[2], s[3]]], "#000", 2.6);
      head([s[2], s[3] + 1, 0, 1], "#000", 11, 7, 2.8);
    });
    stroke(BRACKET, "#000", 2.4);
    UNDERLINES.forEach((s) => stroke([[s[0], s[1]], [s[2], s[3]]], "#111", 1));
    stroke(LEGEND_DMSO, "#000", 3.4, 0.4);
    stroke(LEGEND_GX15, "#f03010", 3.4, 0.4);
    const c = new Chart(ref.current as HTMLCanvasElement, {
      type: "scatter",
      data: { datasets: ds },
      options: {
        animation: false, responsive: false, devicePixelRatio: 1,
        layout: { padding: 0 },
        plugins: { legend: { display: false }, tooltip: { enabled: false } },
        scales: {
          x: { display: false, min: 0, max: 400 },
          y: { display: false, min: 0, max: 1158, reverse: true },
        },
      } as any,
    });
    return () => c.destroy();
  }, []);
  return <canvas ref={ref} width={400} height={1158} style={{ position: "absolute", left: 0, top: 0 }} />;
}

function Label({ d }: { d: T }) {
  const base: React.CSSProperties = {
    position: "absolute", whiteSpace: "pre", fontFamily: FONT, fontSize: d.s, lineHeight: "normal",
    fontWeight: d.b ? 700 : 400, color: d.c || "#000",
  };
  if (d.r) {
    return <div style={{ ...base, left: d.x, top: d.y, transform: "translate(-50%,-50%) rotate(-90deg)" }}>{d.t}</div>;
  }
  const top = d.y - d.s * 0.905;
  return <div style={{ ...base, left: d.x, top, transform: d.a === "c" ? "translateX(-50%)" : undefined }}>{d.t}</div>;
}

export default function App() {
  return (
    <div style={{ position: "absolute", left: 0, top: 0, width: 400, height: 1158, overflow: "hidden", background: "#fff" }}>
      {PLOTS.map((s, i) => <Plot key={i} spec={s} />)}
      <Schematic />
      {TEXTS.map((d, i) => <Label key={i} d={d} />)}
    </div>
  );
}
